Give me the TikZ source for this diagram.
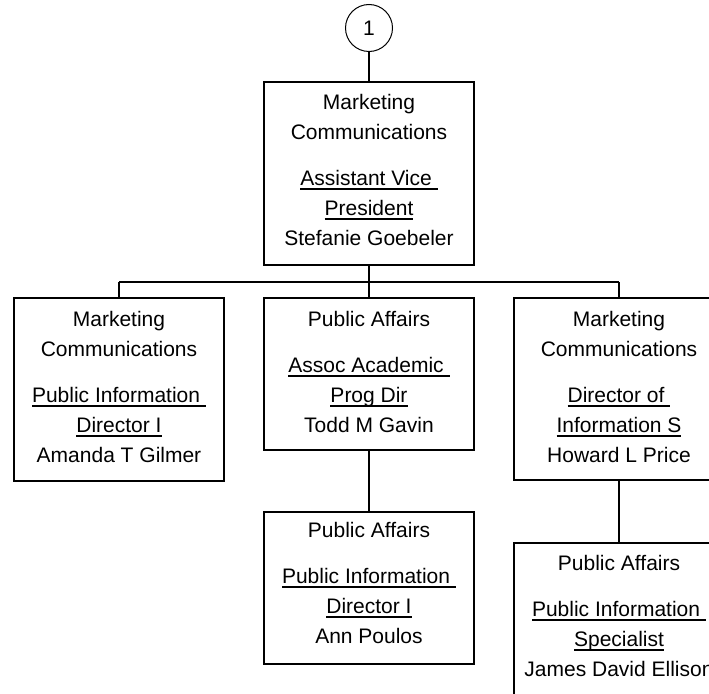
\documentclass[tikz,border=0pt]{standalone}
\usepackage{fontspec}
\setmainfont{Liberation Sans}
\newcommand\ulin[1]{\leavevmode\setbox0\hbox{#1}\rlap{\rule[-4pt]{\wd0}{1.6pt}}\box0}
\tikzset{
  box/.style={draw, line width=1.8pt, minimum width=210pt, minimum height=#1, anchor=north west, inner sep=0pt, outer sep=0pt},
  txt/.style={align=center, anchor=north, inner sep=0pt, font=\fontsize{21}{30}\selectfont},
  link/.style={line width=2pt},
}
\begin{document}
\begin{tikzpicture}[x=1pt,y=-1pt]
\useasboundingbox (0,0) rectangle (709,693);
\clip (0,0) rectangle (709,693);
% circle
\node[draw, circle, line width=1pt, minimum size=47pt, inner sep=0pt, font=\fontsize{21}{30}\selectfont] (c1) at (369,28) {1};
% boxes
\node[box=183pt] (top) at (264,82) {};
\node[box=183pt] (left) at (14,298) {};
\node[box=152pt] (mid) at (264,298) {};
\node[box=152pt] (midb) at (264,512) {};
\node[box=182pt] (right) at (514,298) {};
\node[box=183pt] (rightb) at (514,543) {};
% texts
\node[txt] (ttop) at (369,94.5) {Marketing\\Communications\\[16pt]\ulin{Assistant Vice\ }\\\ulin{President}\\Stefanie Goebeler};
\node[txt] (tleft) at (119,311.5) {Marketing\\Communications\\[16pt]\ulin{Public Information\ }\\\ulin{Director I}\\Amanda T Gilmer};
\node[txt] (tmid) at (369,311.5) {Public Affairs\\[16pt]\ulin{Assoc Academic\ }\\\ulin{Prog Dir}\\Todd M Gavin};
\node[txt] (tmidb) at (369,522.5) {Public Affairs\\[16pt]\ulin{Public Information\ }\\\ulin{Director I}\\Ann Poulos};
\node[txt] (tright) at (619,311.5) {Marketing\\Communications\\[16pt]\ulin{Director of\ }\\\ulin{Information S}\\Howard L Price};
\node[txt] (trightb) at (619,555.5) {Public Affairs\\[16pt]\ulin{Public Information\ }\\\ulin{Specialist}\\James David Ellison};
% connectors
\coordinate (busL) at (119,282);
\coordinate (busR) at (619,282);
\draw[link] (c1.south) -- (top.north);
\draw[link] (top.south) -- (top.south |- busL);
\draw[link] (busL) -- (busR);
\draw[link] (left.north) -- (busL);
\draw[link] (mid.north) -- (mid.north |- busL);
\draw[link] (right.north) -- (busR);
\draw[link] (mid.south) -- (midb.north);
\draw[link] (right.south) -- (rightb.north);
\end{tikzpicture}
\end{document}
